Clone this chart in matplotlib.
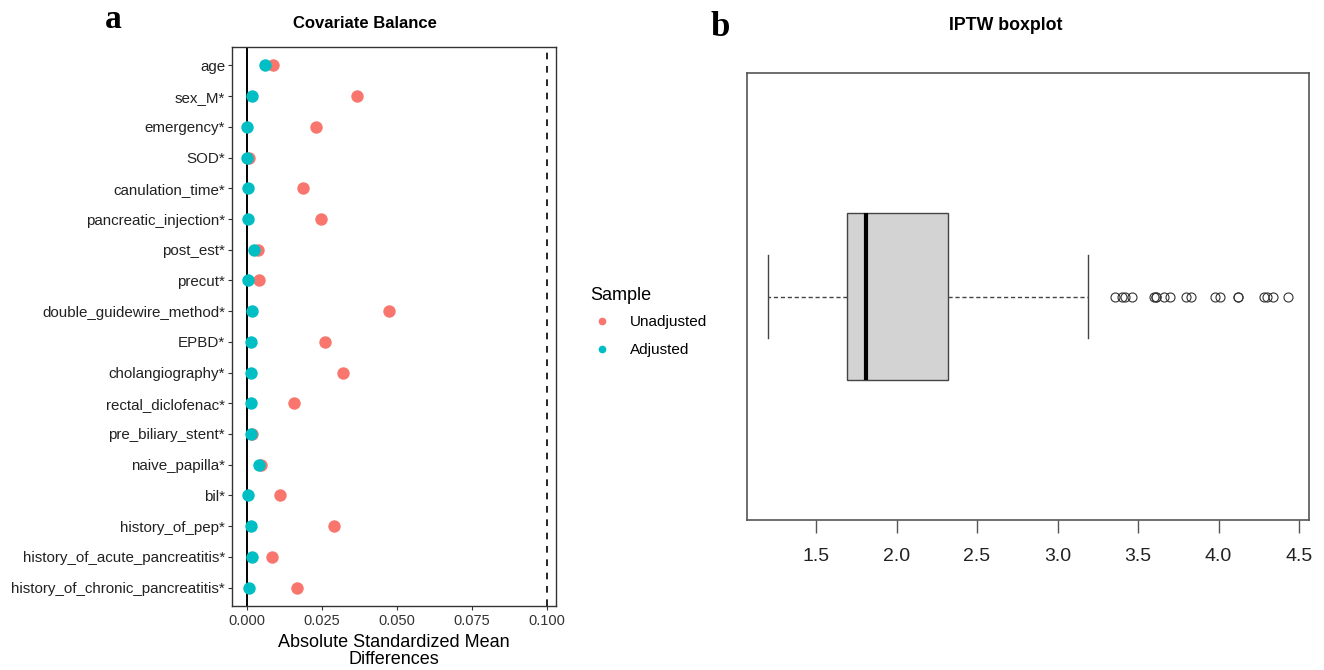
import matplotlib
matplotlib.use("Agg")
import matplotlib.pyplot as plt
from matplotlib.lines import Line2D

# ---------------- data ----------------
covariates = ["age", "sex_M*", "emergency*", "SOD*", "canulation_time*",
              "pancreatic_injection*", "post_est*", "precut*",
              "double_guidewire_method*", "EPBD*", "cholangiography*",
              "rectal_diclofenac*", "pre_biliary_stent*", "naive_papilla*",
              "bil*", "history_of_pep*", "history_of_acute_pancreatitis*",
              "history_of_chronic_pancreatitis*"]
unadjusted = [0.0085, 0.0367, 0.0228, 0.0007, 0.0187, 0.0245, 0.0037, 0.0040,
              0.0473, 0.0260, 0.0320, 0.0157, 0.0017, 0.0045, 0.0110, 0.0290,
              0.0083, 0.0167]
adjusted = [0.0060, 0.0017, 0.0000, 0.0000, 0.0003, 0.0003, 0.0024, 0.0003,
            0.0017, 0.0014, 0.0013, 0.0014, 0.0013, 0.0040, 0.0003, 0.0013,
            0.0015, 0.0007]
threshold = 0.1
smd_ticks = [0.000, 0.025, 0.050, 0.075, 0.100]

iptw_whislo = 1.20
iptw_q1 = 1.69
iptw_med = 1.81
iptw_q3 = 2.32
iptw_whishi = 3.19
iptw_outliers = [3.36, 3.40, 3.42, 3.46, 3.60, 3.61, 3.61, 3.66, 3.70, 3.80,
                 3.83, 3.98, 4.01, 4.12, 4.12, 4.28, 4.30, 4.34, 4.43]
iptw_ticks = [1.5, 2.0, 2.5, 3.0, 3.5, 4.0, 4.5]

RED = "#F8766D"
CYAN = "#00BFC4"
W, H = 1324, 670

plt.rcParams["font.family"] = ["Liberation Sans", "DejaVu Sans"]

fig = plt.figure(figsize=(W / 100, H / 100), dpi=100)

# ---------------- panel a ----------------
axa = fig.add_axes([232 / W, 1 - 606 / H, 324 / W, 559 / H])
n = len(covariates)
ypos = list(range(n))[::-1]
axa.axvline(0, color="black", lw=1.4, zorder=1)
axa.axvline(threshold, color="black", lw=1.2, ls=(0, (4, 4)), zorder=1)
axa.scatter(unadjusted, ypos, s=80, color=RED, zorder=3, linewidths=0)
axa.scatter(adjusted, ypos, s=80, color=CYAN, zorder=4, linewidths=0)
axa.set_yticks(ypos)
axa.set_yticklabels(covariates, fontsize=10.9, color="#222222")
axa.set_ylim(-0.6, n - 0.4)
axa.set_xlim(-0.0051, 0.1031)
axa.set_xticks(smd_ticks)
axa.set_xticklabels([f"{t:.3f}" for t in smd_ticks], fontsize=10.5, color="#333333")
axa.tick_params(axis="both", length=3, width=0.8, color="#333333", pad=2)
axa.tick_params(axis="x", pad=3)
for sp in axa.spines.values():
    sp.set_linewidth(1.0)
    sp.set_color("#333333")
axa.set_xlabel("Absolute Standardized Mean\nDifferences", fontsize=13,
               labelpad=4, linespacing=1.02)

fig.text(365 / W, 1 - 24 / H, "Covariate Balance", fontsize=12,
         fontweight="bold", ha="center", va="center")
fig.text(113 / W, 1 - 20 / H, "a", fontsize=24, fontweight="bold",
         family="Liberation Serif", ha="center", va="center")

handles = [Line2D([], [], marker="o", ls="", color=RED, markersize=4.5),
           Line2D([], [], marker="o", ls="", color=CYAN, markersize=4.5)]
leg = fig.legend(handles, ["Unadjusted", "Adjusted"], title="Sample",
                 loc="upper left", bbox_to_anchor=(576 / W, 1 - 273 / H),
                 frameon=False, fontsize=11, title_fontsize=13,
                 alignment="left", handletextpad=1.0, labelspacing=0.95,
                 handlelength=1.6)
leg._legend_box.sep = 8

# ---------------- panel b ----------------
axb = fig.add_axes([747 / W, 1 - 520 / H, 562 / W, 447 / H])
stats = [dict(whislo=iptw_whislo, q1=iptw_q1, med=iptw_med, q3=iptw_q3,
              whishi=iptw_whishi, fliers=iptw_outliers)]
axb.bxp(stats, positions=[1], widths=0.374, orientation="horizontal",
        patch_artist=True, capwidths=0.187,
        boxprops=dict(facecolor="#D3D3D3", edgecolor="#444444", lw=1.0),
        medianprops=dict(color="black", lw=3),
        whiskerprops=dict(color="#444444", lw=1.0, ls=(0, (3, 2))),
        capprops=dict(color="#444444", lw=1.0),
        flierprops=dict(marker="o", markerfacecolor="none",
                        markeredgecolor="#333333", markersize=6.5,
                        markeredgewidth=0.8))
axb.set_ylim(0.5, 1.5)
axb.set_xlim(1.071, 4.562)
axb.set_yticks([])
axb.set_xticks(iptw_ticks)
axb.set_xticklabels([f"{t:.1f}" for t in iptw_ticks], fontsize=14, color="#222222")
axb.tick_params(axis="x", length=9, width=1.0, color="#555555", pad=11)
for sp in axb.spines.values():
    sp.set_linewidth(1.2)
    sp.set_color("#555555")

fig.text(1006 / W, 1 - 25 / H, "IPTW boxplot", fontsize=12.8,
         fontweight="bold", ha="center", va="center")
fig.text(720 / W, 1 - 27 / H, "b", fontsize=25, fontweight="bold",
         family="Liberation Serif", ha="center", va="center")

fig.savefig("out.png", dpi=100)
